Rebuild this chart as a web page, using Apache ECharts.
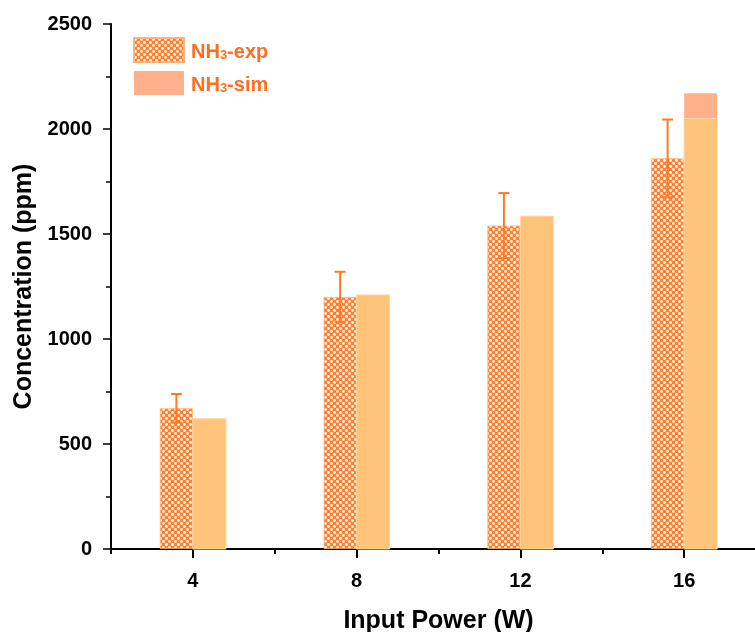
<!DOCTYPE html>
<html>
<head>
<meta charset="utf-8">
<script src="https://cdn.jsdelivr.net/npm/echarts@6/dist/echarts.min.js"></script>
<style>
  html, body { margin: 0; padding: 0; background: #fff; }
  #chart { width: 755px; height: 632px; }
</style>
</head>
<body>
<div id="chart"></div>
<script>
// Input power levels (W) and measured / simulated NH3 concentration (ppm)
const powers = [4, 8, 12, 16];
const expValues = [670, 1200, 1540, 1860];
const expErrors = [68, 120, 155, 185];
const simValues = [620, 1210, 1585, 2170];
const simLayerValues = [620, 1210, 1585, 2050];

const xMajorTicks = [4, 8, 12, 16];
const xMinorTicks = [2, 6, 10, 14, 18];

const FONT = '"Liberation Sans", Arial, sans-serif';
const BAR_W = 33;
const ORANGE = '#FF6D1F';
const SIM_SALMON = '#FFB08A';
const SIM_LIGHT = '#FFC47A';

// Hatched fill for the experimental bars: orange ground with white dots
function makeHatch() {
  const c = document.createElement('canvas');
  c.width = 6; c.height = 6;
  const g = c.getContext('2d');
  g.fillStyle = '#FF7F2C';
  g.fillRect(0, 0, 6, 6);
  g.fillStyle = '#ffffff';
  [[1.5, 1.5], [4.5, 4.5]].forEach(function (p) {
    g.beginPath();
    g.arc(p[0], p[1], 1.4, 0, Math.PI * 2);
    g.fill();
  });
  return c;
}
const hatch = { image: makeHatch(), repeat: 'repeat' };

const chart = echarts.init(document.getElementById('chart'), null, { renderer: 'canvas' });

const legendRich = {
  n: { fontFamily: FONT, fontSize: 20, fontWeight: 'bold', color: ORANGE, verticalAlign: 'bottom', lineHeight: 24 },
  s: { fontFamily: FONT, fontSize: 13, fontWeight: 'bold', color: ORANGE, verticalAlign: 'bottom', lineHeight: 18 }
};

chart.setOption({
  animation: false,
  backgroundColor: '#ffffff',
  // the power axis runs on to 18 W, slightly past the right edge of the canvas
  grid: { left: 111, width: 655, top: 24, bottom: 83, containLabel: false, outerBoundsMode: 'none' },
  legend: {
    data: ['NH3-exp', 'NH3-sim'],
    orient: 'vertical',
    left: 128,
    top: 32,
    itemWidth: 50,
    itemHeight: 24,
    itemGap: 8,
    icon: 'rect',
    formatter: function (name) {
      return '{n|NH}{s|3}{n|' + name.slice(3) + '}';
    },
    textStyle: { rich: legendRich, padding: [0, 0, 0, 2] }
  },
  xAxis: [
    {
      type: 'value',
      min: 2,
      max: 18,
      name: 'Input Power (W)',
      nameLocation: 'middle',
      nameGap: 60,
      nameTextStyle: { fontFamily: FONT, fontSize: 25, fontWeight: 'bold', color: '#000' },
      axisLine: { show: true, onZero: false, lineStyle: { color: '#000', width: 2 } },
      axisTick: { show: true, customValues: xMajorTicks, length: 9, lineStyle: { color: '#000', width: 2 } },
      axisLabel: {
        customValues: xMajorTicks,
        margin: 22,
        fontFamily: FONT, fontSize: 20, fontWeight: 'bold', color: '#000'
      },
      splitLine: { show: false }
    },
    {
      type: 'value',
      min: 2,
      max: 18,
      position: 'bottom',
      axisLine: { show: false },
      axisTick: { show: true, customValues: xMinorTicks, length: 5, lineStyle: { color: '#000', width: 2 } },
      axisLabel: { show: false },
      splitLine: { show: false }
    }
  ],
  yAxis: {
    type: 'value',
    min: 0,
    max: 2500,
    interval: 500,
    name: 'Concentration (ppm)',
    nameLocation: 'middle',
    nameGap: 70,
    nameTextStyle: { fontFamily: FONT, fontSize: 25, fontWeight: 'bold', color: '#000' },
    axisLine: { show: true, lineStyle: { color: '#000', width: 2 } },
    axisTick: { show: true, length: 8, lineStyle: { color: '#000', width: 1.5 } },
    minorTick: { show: true, splitNumber: 2, length: 5, lineStyle: { color: '#000', width: 1.5 } },
    axisLabel: {
      margin: 19,
      formatter: function (v) { return String(v); },
      fontFamily: FONT, fontSize: 20, fontWeight: 'bold', color: '#000'
    },
    splitLine: { show: false }
  },
  series: [
    {
      name: 'NH3-exp',
      type: 'bar',
      xAxisIndex: 0,
      barWidth: BAR_W,
      barGap: '0%',
      itemStyle: { color: hatch, borderColor: '#FFB27A', borderWidth: 0.8 },
      data: powers.map(function (p, i) { return [p, expValues[i]]; }),
      z: 2
    },
    {
      name: 'NH3-sim',
      type: 'bar',
      xAxisIndex: 0,
      barWidth: BAR_W,
      barGap: '0%',
      itemStyle: { color: SIM_SALMON },
      data: powers.map(function (p, i) { return [p, simValues[i]]; }),
      z: 2
    },
    {
      // lighter lower layer of the simulated bars
      name: 'sim-layer',
      type: 'custom',
      xAxisIndex: 0,
      z: 3,
      silent: true,
      data: powers.map(function (p, i) { return [p, simLayerValues[i]]; }),
      renderItem: function (params, api) {
        const x = api.value(0);
        const top = api.coord([x, api.value(1)]);
        const base = api.coord([x, 0]);
        return {
          type: 'rect',
          shape: { x: top[0], y: top[1], width: BAR_W, height: base[1] - top[1] },
          style: { fill: SIM_LIGHT, stroke: '#FFD6A6', lineWidth: 1 }
        };
      }
    },
    {
      name: 'exp-error',
      type: 'custom',
      xAxisIndex: 0,
      z: 5,
      silent: true,
      data: powers.map(function (p, i) { return [p, expValues[i], expErrors[i]]; }),
      renderItem: function (params, api) {
        const x = api.value(0);
        const v = api.value(1);
        const e = api.value(2);
        const hi = api.coord([x, v + e]);
        const lo = api.coord([x, v - e]);
        const cx = hi[0] - BAR_W / 2;
        const cap = 5.5;
        const st = { stroke: '#FF7A22', lineWidth: 2 };
        return {
          type: 'group',
          children: [
            { type: 'line', shape: { x1: cx, y1: hi[1], x2: cx, y2: lo[1] }, style: st },
            { type: 'line', shape: { x1: cx - cap, y1: hi[1], x2: cx + cap, y2: hi[1] }, style: st },
            { type: 'line', shape: { x1: cx - cap, y1: lo[1], x2: cx + cap, y2: lo[1] }, style: st }
          ]
        };
      }
    }
  ]
});
</script>
</body>
</html>
